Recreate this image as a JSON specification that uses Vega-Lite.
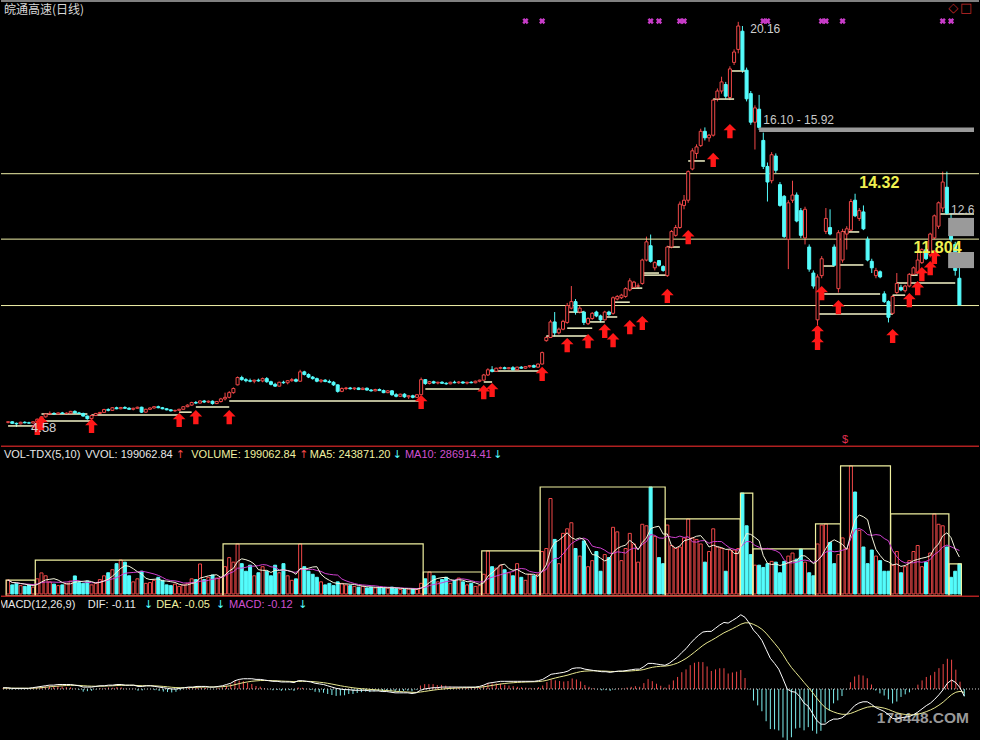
{
"$schema": "https://vega.github.io/schema/vega-lite/v6.json",
"background": "#000000",
"padding": 0,
"spacing": 0,
"bounds": "flush",
"config": {"view": {"stroke": null}, "text": {"font": "Liberation Sans"}},
"datasets": {
"k": [
{"d":0,"o":4.76,"h":4.8,"l":4.72,"c":4.78,"v":92000,"dif":0.02,"dea":0.012,"macd":0.016},
{"d":1,"o":4.78,"h":4.8,"l":4.7,"c":4.72,"v":60000,"dif":0.02,"dea":0.014,"macd":0.012},
{"d":2,"o":4.72,"h":4.75,"l":4.58,"c":4.7,"v":70000,"dif":0.01,"dea":0.013,"macd":-0.006},
{"d":3,"o":4.7,"h":4.78,"l":4.68,"c":4.76,"v":55000,"dif":0.01,"dea":0.012,"macd":-0.004},
{"d":4,"o":4.76,"h":4.8,"l":4.72,"c":4.74,"v":50000,"dif":0.01,"dea":0.012,"macd":-0.004},
{"d":5,"o":4.74,"h":4.78,"l":4.7,"c":4.73,"v":60000,"dif":0.01,"dea":0.012,"macd":-0.004},
{"d":6,"o":4.73,"h":4.8,"l":4.71,"c":4.78,"v":45000,"dif":0.01,"dea":0.011,"macd":-0.002},
{"d":7,"o":4.78,"h":4.9,"l":4.76,"c":4.88,"v":100000,"dif":0.02,"dea":0.013,"macd":0.014},
{"d":8,"o":4.88,"h":5.0,"l":4.85,"c":4.97,"v":139000,"dif":0.03,"dea":0.016,"macd":0.028},
{"d":9,"o":4.97,"h":5.1,"l":4.94,"c":5.08,"v":120000,"dif":0.04,"dea":0.021,"macd":0.038},
{"d":10,"o":5.08,"h":5.18,"l":5.04,"c":5.1,"v":80000,"dif":0.05,"dea":0.027,"macd":0.046},
{"d":11,"o":5.1,"h":5.15,"l":5.05,"c":5.08,"v":65000,"dif":0.06,"dea":0.034,"macd":0.052},
{"d":12,"o":5.08,"h":5.14,"l":5.06,"c":5.12,"v":55000,"dif":0.06,"dea":0.039,"macd":0.042},
{"d":13,"o":5.12,"h":5.16,"l":5.08,"c":5.1,"v":60000,"dif":0.07,"dea":0.045,"macd":0.05},
{"d":14,"o":5.1,"h":5.14,"l":5.07,"c":5.11,"v":70000,"dif":0.07,"dea":0.05,"macd":0.04},
{"d":15,"o":5.11,"h":5.2,"l":5.09,"c":5.18,"v":85000,"dif":0.07,"dea":0.054,"macd":0.032},
{"d":16,"o":5.18,"h":5.22,"l":5.1,"c":5.12,"v":119000,"dif":0.07,"dea":0.057,"macd":0.026},
{"d":17,"o":5.12,"h":5.16,"l":5.08,"c":5.1,"v":75000,"dif":0.06,"dea":0.058,"macd":0.004},
{"d":18,"o":5.1,"h":5.13,"l":4.98,"c":5.0,"v":70000,"dif":0.05,"dea":0.056,"macd":-0.012},
{"d":19,"o":5.0,"h":5.02,"l":4.86,"c":4.9,"v":85000,"dif":0.03,"dea":0.051,"macd":-0.042},
{"d":20,"o":4.9,"h":5.05,"l":4.88,"c":5.02,"v":60000,"dif":0.03,"dea":0.047,"macd":-0.034},
{"d":21,"o":5.02,"h":5.12,"l":5.0,"c":5.1,"v":70000,"dif":0.03,"dea":0.044,"macd":-0.028},
{"d":22,"o":5.1,"h":5.16,"l":5.06,"c":5.14,"v":95000,"dif":0.04,"dea":0.043,"macd":-0.006},
{"d":23,"o":5.14,"h":5.28,"l":5.12,"c":5.25,"v":120000,"dif":0.05,"dea":0.044,"macd":0.012},
{"d":24,"o":5.25,"h":5.3,"l":5.18,"c":5.22,"v":140000,"dif":0.05,"dea":0.045,"macd":0.01},
{"d":25,"o":5.22,"h":5.34,"l":5.2,"c":5.32,"v":160000,"dif":0.06,"dea":0.048,"macd":0.024},
{"d":26,"o":5.32,"h":5.36,"l":5.26,"c":5.28,"v":200000,"dif":0.06,"dea":0.05,"macd":0.02},
{"d":27,"o":5.28,"h":5.35,"l":5.26,"c":5.33,"v":224000,"dif":0.07,"dea":0.054,"macd":0.032},
{"d":28,"o":5.33,"h":5.38,"l":5.28,"c":5.3,"v":210000,"dif":0.07,"dea":0.057,"macd":0.026},
{"d":29,"o":5.3,"h":5.34,"l":5.24,"c":5.26,"v":120000,"dif":0.06,"dea":0.058,"macd":0.004},
{"d":30,"o":5.26,"h":5.32,"l":5.22,"c":5.3,"v":80000,"dif":0.06,"dea":0.058,"macd":0.004},
{"d":31,"o":5.3,"h":5.36,"l":5.28,"c":5.34,"v":100000,"dif":0.06,"dea":0.058,"macd":0.004},
{"d":32,"o":5.34,"h":5.36,"l":5.12,"c":5.15,"v":150000,"dif":0.04,"dea":0.054,"macd":-0.028},
{"d":33,"o":5.15,"h":5.28,"l":5.13,"c":5.26,"v":70000,"dif":0.04,"dea":0.051,"macd":-0.022},
{"d":34,"o":5.26,"h":5.33,"l":5.24,"c":5.31,"v":75000,"dif":0.05,"dea":0.051,"macd":-0.002},
{"d":35,"o":5.31,"h":5.38,"l":5.29,"c":5.36,"v":90000,"dif":0.05,"dea":0.051,"macd":-0.002},
{"d":36,"o":5.36,"h":5.4,"l":5.3,"c":5.32,"v":110000,"dif":0.04,"dea":0.049,"macd":-0.018},
{"d":37,"o":5.32,"h":5.35,"l":5.26,"c":5.28,"v":90000,"dif":0.03,"dea":0.045,"macd":-0.03},
{"d":38,"o":5.28,"h":5.3,"l":5.22,"c":5.24,"v":60000,"dif":0.02,"dea":0.04,"macd":-0.04},
{"d":39,"o":5.24,"h":5.26,"l":5.18,"c":5.2,"v":55000,"dif":0.01,"dea":0.034,"macd":-0.048},
{"d":40,"o":5.2,"h":5.24,"l":5.16,"c":5.22,"v":65000,"dif":0.0,"dea":0.027,"macd":-0.054},
{"d":41,"o":5.22,"h":5.28,"l":5.2,"c":5.26,"v":50000,"dif":0.0,"dea":0.022,"macd":-0.044},
{"d":42,"o":5.26,"h":5.38,"l":5.24,"c":5.36,"v":60000,"dif":0.01,"dea":0.02,"macd":-0.02},
{"d":43,"o":5.36,"h":5.45,"l":5.34,"c":5.42,"v":70000,"dif":0.02,"dea":0.02,"macd":0.0},
{"d":44,"o":5.42,"h":5.55,"l":5.4,"c":5.52,"v":100000,"dif":0.03,"dea":0.022,"macd":0.016},
{"d":45,"o":5.52,"h":5.58,"l":5.46,"c":5.5,"v":95000,"dif":0.03,"dea":0.023,"macd":0.014},
{"d":46,"o":5.5,"h":5.6,"l":5.48,"c":5.58,"v":198000,"dif":0.04,"dea":0.027,"macd":0.026},
{"d":47,"o":5.58,"h":5.62,"l":5.5,"c":5.54,"v":95000,"dif":0.04,"dea":0.029,"macd":0.022},
{"d":48,"o":5.54,"h":5.6,"l":5.5,"c":5.57,"v":110000,"dif":0.04,"dea":0.031,"macd":0.018},
{"d":49,"o":5.57,"h":5.6,"l":5.44,"c":5.48,"v":125000,"dif":0.03,"dea":0.031,"macd":-0.002},
{"d":50,"o":5.48,"h":5.58,"l":5.46,"c":5.56,"v":105000,"dif":0.03,"dea":0.031,"macd":-0.002},
{"d":51,"o":5.56,"h":5.7,"l":5.52,"c":5.66,"v":110000,"dif":0.04,"dea":0.033,"macd":0.014},
{"d":52,"o":5.66,"h":5.9,"l":5.6,"c":5.72,"v":180000,"dif":0.05,"dea":0.036,"macd":0.028},
{"d":53,"o":5.72,"h":5.96,"l":5.68,"c":5.9,"v":240000,"dif":0.07,"dea":0.043,"macd":0.054},
{"d":54,"o":5.9,"h":6.1,"l":5.86,"c":6.06,"v":210000,"dif":0.09,"dea":0.052,"macd":0.076},
{"d":55,"o":6.2,"h":6.52,"l":6.18,"c":6.48,"v":330000,"dif":0.13,"dea":0.068,"macd":0.124},
{"d":56,"o":6.48,"h":6.55,"l":6.36,"c":6.4,"v":200000,"dif":0.15,"dea":0.084,"macd":0.132},
{"d":57,"o":6.4,"h":6.46,"l":6.3,"c":6.36,"v":150000,"dif":0.16,"dea":0.099,"macd":0.122},
{"d":58,"o":6.36,"h":6.44,"l":6.3,"c":6.34,"v":190000,"dif":0.16,"dea":0.111,"macd":0.098},
{"d":59,"o":6.34,"h":6.4,"l":6.26,"c":6.38,"v":120000,"dif":0.16,"dea":0.121,"macd":0.078},
{"d":60,"o":6.38,"h":6.44,"l":6.32,"c":6.35,"v":140000,"dif":0.15,"dea":0.127,"macd":0.046},
{"d":61,"o":6.35,"h":6.48,"l":6.3,"c":6.44,"v":180000,"dif":0.15,"dea":0.132,"macd":0.036},
{"d":62,"o":6.44,"h":6.5,"l":6.28,"c":6.32,"v":150000,"dif":0.14,"dea":0.133,"macd":0.014},
{"d":63,"o":6.32,"h":6.36,"l":6.18,"c":6.22,"v":120000,"dif":0.13,"dea":0.132,"macd":-0.004},
{"d":64,"o":6.22,"h":6.28,"l":6.12,"c":6.15,"v":190000,"dif":0.12,"dea":0.13,"macd":-0.02},
{"d":65,"o":6.15,"h":6.32,"l":6.14,"c":6.3,"v":140000,"dif":0.12,"dea":0.128,"macd":-0.016},
{"d":66,"o":6.3,"h":6.36,"l":6.24,"c":6.28,"v":200000,"dif":0.11,"dea":0.124,"macd":-0.028},
{"d":67,"o":6.28,"h":6.38,"l":6.22,"c":6.36,"v":120000,"dif":0.11,"dea":0.121,"macd":-0.022},
{"d":68,"o":6.36,"h":6.46,"l":6.32,"c":6.4,"v":90000,"dif":0.11,"dea":0.119,"macd":-0.018},
{"d":69,"o":6.4,"h":6.45,"l":6.3,"c":6.34,"v":100000,"dif":0.1,"dea":0.115,"macd":-0.03},
{"d":70,"o":6.34,"h":6.78,"l":6.32,"c":6.7,"v":330000,"dif":0.13,"dea":0.118,"macd":0.024},
{"d":71,"o":6.7,"h":6.74,"l":6.56,"c":6.6,"v":180000,"dif":0.13,"dea":0.12,"macd":0.02},
{"d":72,"o":6.6,"h":6.64,"l":6.46,"c":6.5,"v":150000,"dif":0.12,"dea":0.12,"macd":0.0},
{"d":73,"o":6.5,"h":6.54,"l":6.4,"c":6.44,"v":130000,"dif":0.11,"dea":0.118,"macd":-0.016},
{"d":74,"o":6.44,"h":6.48,"l":6.3,"c":6.34,"v":110000,"dif":0.09,"dea":0.112,"macd":-0.044},
{"d":75,"o":6.34,"h":6.42,"l":6.28,"c":6.38,"v":80000,"dif":0.08,"dea":0.106,"macd":-0.052},
{"d":76,"o":6.38,"h":6.42,"l":6.3,"c":6.33,"v":60000,"dif":0.07,"dea":0.099,"macd":-0.058},
{"d":77,"o":6.33,"h":6.4,"l":6.26,"c":6.3,"v":70000,"dif":0.05,"dea":0.089,"macd":-0.078},
{"d":78,"o":6.3,"h":6.34,"l":6.16,"c":6.2,"v":55000,"dif":0.03,"dea":0.077,"macd":-0.094},
{"d":79,"o":6.2,"h":6.22,"l":5.9,"c":5.95,"v":80000,"dif":0.01,"dea":0.064,"macd":-0.108},
{"d":80,"o":5.95,"h":6.1,"l":5.92,"c":6.06,"v":70000,"dif":0.0,"dea":0.051,"macd":-0.102},
{"d":81,"o":6.06,"h":6.12,"l":6.0,"c":6.08,"v":60000,"dif":-0.01,"dea":0.039,"macd":-0.098},
{"d":82,"o":6.08,"h":6.12,"l":6.02,"c":6.05,"v":55000,"dif":-0.01,"dea":0.029,"macd":-0.078},
{"d":83,"o":6.05,"h":6.1,"l":6.0,"c":6.08,"v":50000,"dif":-0.02,"dea":0.019,"macd":-0.078},
{"d":84,"o":6.08,"h":6.1,"l":6.0,"c":6.02,"v":45000,"dif":-0.02,"dea":0.011,"macd":-0.062},
{"d":85,"o":6.02,"h":6.1,"l":6.0,"c":6.07,"v":50000,"dif":-0.02,"dea":0.005,"macd":-0.05},
{"d":86,"o":6.07,"h":6.1,"l":5.98,"c":6.0,"v":40000,"dif":-0.02,"dea":0.0,"macd":-0.04},
{"d":87,"o":6.0,"h":6.04,"l":5.94,"c":5.97,"v":45000,"dif":-0.03,"dea":-0.006,"macd":-0.048},
{"d":88,"o":5.97,"h":6.05,"l":5.95,"c":6.02,"v":40000,"dif":-0.03,"dea":-0.011,"macd":-0.038},
{"d":89,"o":6.02,"h":6.06,"l":5.96,"c":5.98,"v":42000,"dif":-0.03,"dea":-0.015,"macd":-0.03},
{"d":90,"o":5.98,"h":6.02,"l":5.88,"c":5.9,"v":40000,"dif":-0.04,"dea":-0.02,"macd":-0.04},
{"d":91,"o":5.9,"h":6.0,"l":5.88,"c":5.97,"v":38000,"dif":-0.04,"dea":-0.024,"macd":-0.032},
{"d":92,"o":5.97,"h":6.0,"l":5.78,"c":5.82,"v":45000,"dif":-0.05,"dea":-0.029,"macd":-0.042},
{"d":93,"o":5.82,"h":5.88,"l":5.72,"c":5.76,"v":35000,"dif":-0.06,"dea":-0.035,"macd":-0.05},
{"d":94,"o":5.76,"h":5.86,"l":5.74,"c":5.84,"v":30000,"dif":-0.06,"dea":-0.04,"macd":-0.04},
{"d":95,"o":5.84,"h":5.88,"l":5.7,"c":5.74,"v":30000,"dif":-0.06,"dea":-0.044,"macd":-0.032},
{"d":96,"o":5.74,"h":5.8,"l":5.66,"c":5.78,"v":32000,"dif":-0.06,"dea":-0.047,"macd":-0.026},
{"d":97,"o":5.78,"h":5.82,"l":5.68,"c":5.72,"v":35000,"dif":-0.07,"dea":-0.052,"macd":-0.036},
{"d":98,"o":5.72,"h":5.84,"l":5.7,"c":5.82,"v":30000,"dif":-0.06,"dea":-0.054,"macd":-0.012},
{"d":99,"o":5.82,"h":6.48,"l":5.8,"c":6.4,"v":70000,"dif":-0.02,"dea":-0.047,"macd":0.054},
{"d":100,"o":6.4,"h":6.42,"l":6.2,"c":6.25,"v":100000,"dif":0.0,"dea":-0.038,"macd":0.076},
{"d":101,"o":6.25,"h":6.35,"l":6.22,"c":6.32,"v":145000,"dif":0.01,"dea":-0.028,"macd":0.076},
{"d":102,"o":6.32,"h":6.36,"l":6.24,"c":6.27,"v":120000,"dif":0.02,"dea":-0.018,"macd":0.076},
{"d":103,"o":6.27,"h":6.32,"l":6.22,"c":6.3,"v":80000,"dif":0.02,"dea":-0.01,"macd":0.06},
{"d":104,"o":6.3,"h":6.34,"l":6.24,"c":6.26,"v":95000,"dif":0.03,"dea":-0.002,"macd":0.064},
{"d":105,"o":6.26,"h":6.3,"l":6.2,"c":6.24,"v":110000,"dif":0.03,"dea":0.004,"macd":0.052},
{"d":106,"o":6.24,"h":6.32,"l":6.22,"c":6.3,"v":70000,"dif":0.03,"dea":0.009,"macd":0.042},
{"d":107,"o":6.3,"h":6.36,"l":6.26,"c":6.28,"v":90000,"dif":0.03,"dea":0.013,"macd":0.034},
{"d":108,"o":6.28,"h":6.34,"l":6.24,"c":6.31,"v":105000,"dif":0.03,"dea":0.016,"macd":0.028},
{"d":109,"o":6.31,"h":6.34,"l":6.24,"c":6.27,"v":80000,"dif":0.03,"dea":0.019,"macd":0.022},
{"d":110,"o":6.27,"h":6.32,"l":6.22,"c":6.3,"v":60000,"dif":0.03,"dea":0.021,"macd":0.018},
{"d":111,"o":6.3,"h":6.34,"l":6.26,"c":6.28,"v":70000,"dif":0.03,"dea":0.023,"macd":0.014},
{"d":112,"o":6.28,"h":6.36,"l":6.26,"c":6.34,"v":50000,"dif":0.03,"dea":0.024,"macd":0.012},
{"d":113,"o":6.34,"h":6.4,"l":6.3,"c":6.38,"v":55000,"dif":0.04,"dea":0.027,"macd":0.026},
{"d":114,"o":6.38,"h":6.62,"l":6.36,"c":6.58,"v":130000,"dif":0.06,"dea":0.034,"macd":0.052},
{"d":115,"o":6.58,"h":6.84,"l":6.54,"c":6.78,"v":284000,"dif":0.09,"dea":0.045,"macd":0.09},
{"d":116,"o":6.78,"h":6.92,"l":6.68,"c":6.72,"v":180000,"dif":0.1,"dea":0.056,"macd":0.088},
{"d":117,"o":6.72,"h":6.86,"l":6.7,"c":6.84,"v":170000,"dif":0.11,"dea":0.067,"macd":0.086},
{"d":118,"o":6.84,"h":6.9,"l":6.8,"c":6.86,"v":190000,"dif":0.12,"dea":0.078,"macd":0.084},
{"d":119,"o":6.86,"h":6.9,"l":6.8,"c":6.82,"v":160000,"dif":0.12,"dea":0.086,"macd":0.068},
{"d":120,"o":6.82,"h":6.88,"l":6.8,"c":6.86,"v":140000,"dif":0.12,"dea":0.093,"macd":0.054},
{"d":121,"o":6.86,"h":6.92,"l":6.76,"c":6.78,"v":120000,"dif":0.12,"dea":0.098,"macd":0.044},
{"d":122,"o":6.78,"h":6.9,"l":6.76,"c":6.88,"v":200000,"dif":0.12,"dea":0.103,"macd":0.034},
{"d":123,"o":6.88,"h":6.92,"l":6.82,"c":6.84,"v":110000,"dif":0.12,"dea":0.106,"macd":0.028},
{"d":124,"o":6.84,"h":6.92,"l":6.82,"c":6.9,"v":90000,"dif":0.12,"dea":0.109,"macd":0.022},
{"d":125,"o":6.9,"h":6.96,"l":6.86,"c":6.94,"v":130000,"dif":0.12,"dea":0.111,"macd":0.018},
{"d":126,"o":6.94,"h":6.98,"l":6.86,"c":6.88,"v":120000,"dif":0.12,"dea":0.113,"macd":0.014},
{"d":127,"o":6.88,"h":7.02,"l":6.86,"c":7.0,"v":130000,"dif":0.13,"dea":0.116,"macd":0.028},
{"d":128,"o":7.0,"h":7.48,"l":6.98,"c":7.44,"v":280000,"dif":0.15,"dea":0.123,"macd":0.054},
{"d":129,"o":7.9,"h":8.08,"l":7.86,"c":8.02,"v":300000,"dif":0.19,"dea":0.136,"macd":0.108},
{"d":130,"o":8.02,"h":8.7,"l":8.0,"c":8.62,"v":630000,"dif":0.23,"dea":0.155,"macd":0.15},
{"d":131,"o":8.62,"h":9.0,"l":8.06,"c":8.2,"v":360000,"dif":0.24,"dea":0.172,"macd":0.136},
{"d":132,"o":8.2,"h":8.4,"l":8.14,"c":8.34,"v":200000,"dif":0.25,"dea":0.188,"macd":0.124},
{"d":133,"o":8.34,"h":8.7,"l":8.3,"c":8.64,"v":400000,"dif":0.26,"dea":0.202,"macd":0.116},
{"d":134,"o":8.6,"h":9.35,"l":8.55,"c":9.25,"v":430000,"dif":0.28,"dea":0.218,"macd":0.124},
{"d":135,"o":9.15,"h":10.0,"l":9.1,"c":9.4,"v":470000,"dif":0.32,"dea":0.238,"macd":0.164},
{"d":136,"o":9.4,"h":9.5,"l":8.9,"c":9.0,"v":300000,"dif":0.33,"dea":0.256,"macd":0.148},
{"d":137,"o":9.0,"h":9.25,"l":8.95,"c":9.15,"v":250000,"dif":0.33,"dea":0.271,"macd":0.118},
{"d":138,"o":9.0,"h":9.05,"l":8.5,"c":8.6,"v":350000,"dif":0.31,"dea":0.279,"macd":0.062},
{"d":139,"o":8.55,"h":8.8,"l":8.5,"c":8.75,"v":180000,"dif":0.3,"dea":0.283,"macd":0.034},
{"d":140,"o":8.75,"h":9.0,"l":8.7,"c":8.95,"v":220000,"dif":0.29,"dea":0.284,"macd":0.012},
{"d":141,"o":9.0,"h":9.05,"l":8.8,"c":8.85,"v":280000,"dif":0.28,"dea":0.283,"macd":-0.006},
{"d":142,"o":8.85,"h":8.9,"l":8.6,"c":8.7,"v":150000,"dif":0.27,"dea":0.281,"macd":-0.022},
{"d":143,"o":8.7,"h":9.05,"l":8.68,"c":9.0,"v":260000,"dif":0.27,"dea":0.279,"macd":-0.018},
{"d":144,"o":9.0,"h":9.05,"l":8.85,"c":8.9,"v":240000,"dif":0.26,"dea":0.275,"macd":-0.03},
{"d":145,"o":8.95,"h":9.6,"l":8.9,"c":9.55,"v":440000,"dif":0.27,"dea":0.274,"macd":-0.008},
{"d":146,"o":9.5,"h":9.65,"l":9.45,"c":9.6,"v":410000,"dif":0.28,"dea":0.275,"macd":0.01},
{"d":147,"o":9.55,"h":9.7,"l":9.5,"c":9.65,"v":220000,"dif":0.28,"dea":0.276,"macd":0.008},
{"d":148,"o":9.6,"h":9.95,"l":9.55,"c":9.9,"v":300000,"dif":0.29,"dea":0.279,"macd":0.022},
{"d":149,"o":9.85,"h":10.3,"l":9.8,"c":10.2,"v":400000,"dif":0.3,"dea":0.283,"macd":0.034},
{"d":150,"o":9.95,"h":10.2,"l":9.9,"c":10.15,"v":330000,"dif":0.31,"dea":0.288,"macd":0.044},
{"d":151,"o":10.0,"h":10.1,"l":9.9,"c":10.0,"v":210000,"dif":0.31,"dea":0.293,"macd":0.034},
{"d":152,"o":10.1,"h":11.05,"l":10.05,"c":11.0,"v":460000,"dif":0.35,"dea":0.304,"macd":0.092},
{"d":153,"o":11.0,"h":11.9,"l":10.95,"c":11.7,"v":450000,"dif":0.4,"dea":0.323,"macd":0.154},
{"d":154,"o":11.55,"h":11.98,"l":10.9,"c":10.95,"v":706000,"dif":0.4,"dea":0.339,"macd":0.122},
{"d":155,"o":10.7,"h":10.95,"l":10.6,"c":10.9,"v":380000,"dif":0.39,"dea":0.349,"macd":0.082},
{"d":156,"o":10.98,"h":11.0,"l":10.75,"c":10.8,"v":240000,"dif":0.38,"dea":0.355,"macd":0.05},
{"d":157,"o":10.75,"h":10.8,"l":10.55,"c":10.6,"v":200000,"dif":0.37,"dea":0.358,"macd":0.024},
{"d":158,"o":10.4,"h":11.55,"l":10.35,"c":11.5,"v":455000,"dif":0.4,"dea":0.366,"macd":0.068},
{"d":159,"o":11.5,"h":12.15,"l":11.45,"c":12.1,"v":320000,"dif":0.45,"dea":0.383,"macd":0.134},
{"d":160,"o":11.95,"h":12.35,"l":11.9,"c":12.25,"v":300000,"dif":0.5,"dea":0.406,"macd":0.188},
{"d":161,"o":12.25,"h":13.25,"l":12.2,"c":13.15,"v":310000,"dif":0.57,"dea":0.439,"macd":0.262},
{"d":162,"o":13.1,"h":13.5,"l":12.95,"c":13.3,"v":370000,"dif":0.63,"dea":0.477,"macd":0.306},
{"d":163,"o":13.3,"h":14.45,"l":13.2,"c":14.4,"v":495000,"dif":0.71,"dea":0.524,"macd":0.372},
{"d":164,"o":14.5,"h":15.3,"l":14.45,"c":15.2,"v":370000,"dif":0.78,"dea":0.575,"macd":0.41},
{"d":165,"o":15.1,"h":15.45,"l":14.9,"c":15.35,"v":360000,"dif":0.84,"dea":0.628,"macd":0.424},
{"d":166,"o":15.4,"h":16.05,"l":15.35,"c":15.95,"v":330000,"dif":0.89,"dea":0.68,"macd":0.42},
{"d":167,"o":15.95,"h":16.1,"l":15.6,"c":15.7,"v":210000,"dif":0.9,"dea":0.724,"macd":0.352},
{"d":168,"o":15.7,"h":15.85,"l":15.55,"c":15.8,"v":280000,"dif":0.9,"dea":0.759,"macd":0.282},
{"d":169,"o":15.8,"h":17.2,"l":15.75,"c":17.15,"v":430000,"dif":0.95,"dea":0.797,"macd":0.306},
{"d":170,"o":17.2,"h":17.6,"l":17.1,"c":17.5,"v":310000,"dif":1.0,"dea":0.838,"macd":0.324},
{"d":171,"o":17.5,"h":18.05,"l":17.4,"c":17.85,"v":300000,"dif":1.04,"dea":0.878,"macd":0.324},
{"d":172,"o":17.75,"h":17.85,"l":17.2,"c":17.3,"v":150000,"dif":1.03,"dea":0.909,"macd":0.242},
{"d":173,"o":17.25,"h":18.45,"l":17.15,"c":18.35,"v":290000,"dif":1.07,"dea":0.941,"macd":0.258},
{"d":174,"o":18.6,"h":19.1,"l":18.5,"c":19.0,"v":290000,"dif":1.11,"dea":0.975,"macd":0.27},
{"d":175,"o":19.1,"h":20.16,"l":18.95,"c":20.0,"v":300000,"dif":1.16,"dea":1.012,"macd":0.296},
{"d":176,"o":19.8,"h":20.0,"l":18.2,"c":18.3,"v":666000,"dif":1.12,"dea":1.034,"macd":0.172},
{"d":177,"o":18.3,"h":18.4,"l":17.1,"c":17.2,"v":450000,"dif":1.03,"dea":1.033,"macd":-0.006},
{"d":178,"o":17.4,"h":17.5,"l":16.2,"c":16.3,"v":260000,"dif":0.92,"dea":1.01,"macd":-0.18},
{"d":179,"o":16.3,"h":16.95,"l":15.25,"c":16.85,"v":190000,"dif":0.85,"dea":0.978,"macd":-0.256},
{"d":180,"o":16.8,"h":17.35,"l":16.0,"c":16.1,"v":190000,"dif":0.76,"dea":0.934,"macd":-0.348},
{"d":181,"o":15.6,"h":15.9,"l":14.5,"c":14.6,"v":175000,"dif":0.62,"dea":0.872,"macd":-0.504},
{"d":182,"o":14.6,"h":14.75,"l":13.25,"c":14.0,"v":200000,"dif":0.48,"dea":0.793,"macd":-0.626},
{"d":183,"o":14.05,"h":15.15,"l":13.95,"c":15.05,"v":215000,"dif":0.4,"dea":0.715,"macd":-0.63},
{"d":184,"o":15.0,"h":15.1,"l":14.35,"c":14.45,"v":210000,"dif":0.31,"dea":0.634,"macd":-0.648},
{"d":185,"o":13.9,"h":14.0,"l":13.05,"c":13.1,"v":140000,"dif":0.16,"dea":0.539,"macd":-0.758},
{"d":186,"o":13.45,"h":13.5,"l":11.85,"c":11.9,"v":215000,"dif":0.0,"dea":0.431,"macd":-0.862},
{"d":187,"o":11.8,"h":13.3,"l":10.65,"c":13.2,"v":250000,"dif":-0.04,"dea":0.337,"macd":-0.754},
{"d":188,"o":13.3,"h":14.05,"l":13.2,"c":13.5,"v":270000,"dif":-0.05,"dea":0.259,"macd":-0.618},
{"d":189,"o":13.5,"h":13.6,"l":12.45,"c":12.5,"v":230000,"dif":-0.12,"dea":0.183,"macd":-0.606},
{"d":190,"o":12.9,"h":13.0,"l":11.85,"c":11.95,"v":297000,"dif":-0.22,"dea":0.103,"macd":-0.646},
{"d":191,"o":11.85,"h":13.05,"l":11.6,"c":12.95,"v":210000,"dif":-0.27,"dea":0.028,"macd":-0.596},
{"d":192,"o":11.5,"h":11.6,"l":10.55,"c":10.65,"v":140000,"dif":-0.38,"dea":-0.054,"macd":-0.652},
{"d":193,"o":10.5,"h":10.6,"l":9.9,"c":10.0,"v":120000,"dif":-0.49,"dea":-0.141,"macd":-0.698},
{"d":194,"o":8.7,"h":10.45,"l":8.5,"c":10.35,"v":330000,"dif":-0.55,"dea":-0.223,"macd":-0.654},
{"d":195,"o":10.4,"h":11.15,"l":10.3,"c":11.05,"v":455000,"dif":-0.55,"dea":-0.288,"macd":-0.524},
{"d":196,"o":12.1,"h":13.0,"l":12.0,"c":12.6,"v":462000,"dif":-0.5,"dea":-0.331,"macd":-0.338},
{"d":197,"o":12.25,"h":12.95,"l":11.95,"c":12.0,"v":340000,"dif":-0.47,"dea":-0.358,"macd":-0.224},
{"d":198,"o":11.5,"h":11.6,"l":10.75,"c":10.8,"v":200000,"dif":-0.47,"dea":-0.381,"macd":-0.178},
{"d":199,"o":9.9,"h":12.15,"l":9.75,"c":12.05,"v":260000,"dif":-0.45,"dea":-0.395,"macd":-0.11},
{"d":200,"o":11.0,"h":12.2,"l":10.9,"c":12.1,"v":370000,"dif":-0.4,"dea":-0.396,"macd":-0.008},
{"d":201,"o":12.0,"h":12.3,"l":11.4,"c":12.2,"v":300000,"dif":-0.33,"dea":-0.383,"macd":0.106},
{"d":202,"o":12.15,"h":13.35,"l":12.1,"c":13.25,"v":845000,"dif":-0.26,"dea":-0.358,"macd":0.196},
{"d":203,"o":13.3,"h":13.55,"l":12.65,"c":12.7,"v":673000,"dif":-0.22,"dea":-0.331,"macd":0.222},
{"d":204,"o":12.6,"h":13.0,"l":12.5,"c":12.9,"v":420000,"dif":-0.2,"dea":-0.305,"macd":0.21},
{"d":205,"o":12.85,"h":13.1,"l":12.15,"c":12.2,"v":310000,"dif":-0.2,"dea":-0.284,"macd":0.168},
{"d":206,"o":11.8,"h":11.9,"l":10.95,"c":11.0,"v":200000,"dif":-0.24,"dea":-0.275,"macd":0.07},
{"d":207,"o":10.95,"h":11.05,"l":10.5,"c":10.7,"v":290000,"dif":-0.29,"dea":-0.278,"macd":-0.024},
{"d":208,"o":10.4,"h":10.7,"l":10.3,"c":10.6,"v":250000,"dif":-0.32,"dea":-0.286,"macd":-0.068},
{"d":209,"o":10.55,"h":10.6,"l":10.3,"c":10.35,"v":220000,"dif":-0.35,"dea":-0.299,"macd":-0.102},
{"d":210,"o":9.7,"h":9.8,"l":9.35,"c":9.4,"v":150000,"dif":-0.4,"dea":-0.319,"macd":-0.162},
{"d":211,"o":9.4,"h":9.45,"l":8.6,"c":8.8,"v":150000,"dif":-0.46,"dea":-0.347,"macd":-0.226},
{"d":212,"o":8.95,"h":9.65,"l":8.9,"c":9.6,"v":190000,"dif":-0.47,"dea":-0.372,"macd":-0.196},
{"d":213,"o":9.75,"h":10.5,"l":9.7,"c":10.1,"v":280000,"dif":-0.45,"dea":-0.388,"macd":-0.124},
{"d":214,"o":9.95,"h":10.05,"l":9.8,"c":9.85,"v":140000,"dif":-0.44,"dea":-0.398,"macd":-0.084},
{"d":215,"o":9.82,"h":10.05,"l":9.75,"c":10.0,"v":180000,"dif":-0.43,"dea":-0.404,"macd":-0.052},
{"d":216,"o":10.0,"h":10.5,"l":9.95,"c":10.45,"v":220000,"dif":-0.4,"dea":-0.403,"macd":0.006},
{"d":217,"o":10.45,"h":10.75,"l":10.4,"c":10.7,"v":280000,"dif":-0.36,"dea":-0.394,"macd":0.068},
{"d":218,"o":10.5,"h":11.4,"l":10.45,"c":11.0,"v":320000,"dif":-0.31,"dea":-0.377,"macd":0.134},
{"d":219,"o":10.9,"h":11.45,"l":10.85,"c":11.4,"v":180000,"dif":-0.26,"dea":-0.354,"macd":0.188},
{"d":220,"o":11.4,"h":11.55,"l":11.0,"c":11.05,"v":210000,"dif":-0.22,"dea":-0.327,"macd":0.214},
{"d":221,"o":11.2,"h":12.05,"l":11.1,"c":12.0,"v":270000,"dif":-0.16,"dea":-0.294,"macd":0.268},
{"d":222,"o":11.85,"h":12.75,"l":11.8,"c":12.7,"v":528000,"dif":-0.09,"dea":-0.253,"macd":0.326},
{"d":223,"o":12.3,"h":13.25,"l":12.2,"c":13.2,"v":460000,"dif":-0.01,"dea":-0.205,"macd":0.39},
{"d":224,"o":13.0,"h":14.4,"l":12.85,"c":14.0,"v":450000,"dif":0.09,"dea":-0.146,"macd":0.472},
{"d":225,"o":13.8,"h":14.4,"l":12.75,"c":12.8,"v":310000,"dif":0.14,"dea":-0.089,"macd":0.458},
{"d":226,"o":12.6,"h":12.8,"l":11.7,"c":11.8,"v":110000,"dif":0.1,"dea":-0.051,"macd":0.302},
{"d":227,"o":11.6,"h":11.7,"l":10.4,"c":10.6,"v":150000,"dif":0.02,"dea":-0.037,"macd":0.114},
{"d":228,"o":10.3,"h":10.75,"l":9.25,"c":9.27,"v":199062.84,"dif":-0.11,"dea":-0.052,"macd":-0.116}
],
"lines": [{"p":14.32},{"p":11.804},{"p":9.25}],
"zones": [{"d1":180,"d2":231.5,"p1":15.92,"p2":16.1},{"d1":225.3,"d2":231.5,"p1":11.92,"p2":12.62},{"d1":225.3,"d2":231.5,"p1":10.69,"p2":11.31}],
"seg": [
{"d1":0,"d2":6,"p":4.62},{"d1":7,"d2":20,"p":4.81},{"d1":8,"d2":19,"p":5.08},{"d1":20,"d2":41,"p":5.04},{"d1":41,"d2":44,"p":5.15},{"d1":45,"d2":53,"p":5.35},{"d1":53,"d2":99,"p":5.58},{"d1":100,"d2":113,"p":6.04},{"d1":114,"d2":116,"p":6.31},{"d1":116,"d2":128,"p":6.73},{"d1":129,"d2":139,"p":8.08},{"d1":134,"d2":140,"p":8.38},{"d1":134,"d2":138,"p":9.0},{"d1":139,"d2":143,"p":8.62},{"d1":143,"d2":146,"p":8.81},{"d1":145,"d2":149,"p":9.38},{"d1":149,"d2":152,"p":9.92},{"d1":152,"d2":156,"p":10.5},{"d1":152,"d2":158,"p":10.42},{"d1":158,"d2":161,"p":11.5},{"d1":163,"d2":167,"p":14.81},{"d1":169,"d2":174,"p":17.19},{"d1":173,"d2":177,"p":18.27},{"d1":195,"d2":198,"p":10.77},{"d1":199,"d2":205,"p":10.81},{"d1":200,"d2":204,"p":12.08},{"d1":194,"d2":209,"p":9.69},{"d1":194,"d2":212,"p":8.92},{"d1":212,"d2":215,"p":9.65},{"d1":213,"d2":227,"p":10.12},{"d1":216,"d2":218,"p":10.42},{"d1":223,"d2":231.5,"p":12.77}
],
"arrows": [
{"d":7,"p":4.54},{"d":8,"p":4.73},{"d":20,"p":4.62},{"d":41,"p":4.85},{"d":45,"p":4.96},{"d":53,"p":4.96},{"d":99,"p":5.54},{"d":114,"p":5.92},{"d":116,"p":6.0},{"d":128,"p":6.62},{"d":134,"p":7.73},{"d":139,"p":7.88},{"d":143,"p":8.27},{"d":145,"p":7.92},{"d":149,"p":8.42},{"d":152,"p":8.58},{"d":158,"p":9.62},{"d":163,"p":11.88},{"d":169,"p":14.85},{"d":173,"p":15.96},{"d":194,"p":8.23},{"d":194,"p":7.81},{"d":195,"p":9.73},{"d":199,"p":9.19},{"d":212,"p":8.08},{"d":216,"p":9.46},{"d":218,"p":9.92},{"d":219,"p":10.46},{"d":221,"p":10.69},{"d":222,"p":11.12}
],
"xs": [{"d":124},{"d":128},{"d":154},{"d":156},{"d":161},{"d":162},{"d":181},{"d":182},{"d":195},{"d":196},{"d":200},{"d":224},{"d":226}],
"boxes": [
{"d1":0,"d2":6,"top":92000},{"d1":7,"d2":51,"top":224000},{"d1":52,"d2":99,"top":330000},{"d1":100,"d2":113,"top":145000},{"d1":114,"d2":127,"top":284000},{"d1":128,"d2":157,"top":706000},{"d1":158,"d2":175,"top":495000},{"d1":176,"d2":178,"top":666000},{"d1":179,"d2":193,"top":297000},{"d1":194,"d2":199,"top":462000},{"d1":200,"d2":211,"top":845000},{"d1":212,"d2":225,"top":528000},{"d1":226,"d2":228,"top":199062.84}
]
},
"vconcat": [
{
"width": 978, "height": 447,
"layer": [
{"data": {"name": "k"}, "mark": {"type": "rule", "strokeWidth": 1},
 "encoding": {
  "x": {"field": "d", "type": "quantitative", "scale": {"domain": [-0.5, 231.5], "nice": false, "zero": false}, "axis": null},
  "y": {"field": "l", "type": "quantitative", "scale": {"domain": [3.81, 21.0], "nice": false, "zero": false},
        "axis": {"orient": "right", "title": null, "labels": false, "values": [4,5,6,7,8,9,10,11,12,13,14,15,16,17,18,19,20,21], "domainColor": "#b02020", "domainWidth": 1.5, "tickColor": "#b02020", "tickSize": 5, "grid": true, "gridColor": "#8c1c1c", "gridDash": [1,3], "gridOpacity": {"condition": {"test": "datum.value % 2 === 0 && datum.value < 21", "value": 1}, "value": 0}}},
  "y2": {"field": "h"},
  "color": {"condition": {"test": "datum.c >= datum.o", "value": "#f04848"}, "value": "#54fcfc"}
 }},
{"data": {"name": "lines"}, "mark": {"type": "rule", "color": "#f0f0a8", "strokeWidth": 1},
 "encoding": {"y": {"field": "p", "type": "quantitative", "axis": null}}},
{"data": {"name": "seg"}, "mark": {"type": "rule", "color": "#f5f5c8", "strokeWidth": 1.5},
 "encoding": {"x": {"field": "d1", "type": "quantitative", "axis": null}, "x2": {"field": "d2"}, "y": {"field": "p", "type": "quantitative", "axis": null}}},
{"data": {"name": "k"}, "mark": {"type": "bar", "width": 3, "strokeWidth": 1},
 "encoding": {
  "x": {"field": "d", "type": "quantitative", "axis": null},
  "y": {"field": "o", "type": "quantitative", "axis": null},
  "y2": {"field": "c"},
  "fill": {"condition": {"test": "datum.c >= datum.o", "value": "#000000"}, "value": "#54fcfc"},
  "stroke": {"condition": {"test": "datum.c >= datum.o", "value": "#f04848"}, "value": "#54fcfc"}
 }},
{"data": {"name": "zones"}, "mark": {"type": "rect", "color": "#9a9a9a", "clip": true},
 "encoding": {"x": {"field": "d1", "type": "quantitative", "axis": null}, "x2": {"field": "d2"}, "y": {"field": "p1", "type": "quantitative", "axis": null}, "y2": {"field": "p2"}}},
{"data": {"name": "arrows"}, "mark": {"type": "point", "filled": true, "opacity": 1, "color": "#ff1818", "size": 200, "shape": "M0,-1L0.9,-0.1L0.38,-0.1L0.38,1L-0.38,1L-0.38,-0.1L-0.9,-0.1Z"},
 "encoding": {"x": {"field": "d", "type": "quantitative", "axis": null}, "y": {"field": "p", "type": "quantitative", "axis": null}}},
{"data": {"name": "xs"}, "mark": {"type": "point", "filled": true, "opacity": 1, "color": "#c83cc8", "size": 40, "shape": "cross", "angle": 45},
 "encoding": {"x": {"field": "d", "type": "quantitative", "axis": null}, "y": {"datum": 20.19, "type": "quantitative", "axis": null}}},
{"data": {"values": [{}]}, "mark": {"type": "rule", "color": "#808080", "strokeWidth": 2},
 "encoding": {"y": {"datum": 20.96, "type": "quantitative", "axis": null}}},
{"data": {"values": [{}]}, "mark": {"type": "rule", "color": "#b02020", "strokeWidth": 1.5},
 "encoding": {"y": {"datum": 3.84, "type": "quantitative", "axis": null}}},
{"data": {"values": [{}]}, "mark": {"type": "text", "text": "皖通高速(日线)", "font": "Noto Sans CJK SC", "fontSize": 12, "align": "left", "baseline": "middle", "color": "#d8d8d8", "clip": true},
 "encoding": {"x": {"datum": -1, "type": "quantitative", "axis": null}, "y": {"datum": 20.62, "type": "quantitative", "axis": null}}},
{"data": {"values": [{}]}, "mark": {"type": "text", "text": "20.16", "fontSize": 12, "align": "left", "baseline": "middle", "dx": 12, "color": "#d0d0d0"},
 "encoding": {"x": {"datum": 175, "type": "quantitative", "axis": null}, "y": {"datum": 19.88, "type": "quantitative", "axis": null}}},
{"data": {"values": [{}]}, "mark": {"type": "text", "text": "4.58", "fontSize": 13, "align": "left", "baseline": "middle", "color": "#d0d0d0"},
 "encoding": {"x": {"datum": 5.5, "type": "quantitative", "axis": null}, "y": {"datum": 4.54, "type": "quantitative", "axis": null}}},
{"data": {"values": [{}]}, "mark": {"type": "text", "text": "16.10 - 15.92", "fontSize": 12, "align": "left", "baseline": "middle", "color": "#c8c8c8"},
 "encoding": {"x": {"datum": 181, "type": "quantitative", "axis": null}, "y": {"datum": 16.38, "type": "quantitative", "axis": null}}},
{"data": {"values": [{}]}, "mark": {"type": "text", "text": "14.32", "fontSize": 16, "fontWeight": "bold", "align": "left", "baseline": "middle", "color": "#f0f050"},
 "encoding": {"x": {"datum": 204, "type": "quantitative", "axis": null}, "y": {"datum": 13.97, "type": "quantitative", "axis": null}}},
{"data": {"values": [{}]}, "mark": {"type": "text", "text": "11.804", "fontSize": 16, "fontWeight": "bold", "align": "left", "baseline": "middle", "color": "#f0f050", "clip": true},
 "encoding": {"x": {"datum": 217, "type": "quantitative", "axis": null}, "y": {"datum": 11.46, "type": "quantitative", "axis": null}}},
{"data": {"values": [{}]}, "mark": {"type": "text", "text": "12.6", "fontSize": 12, "align": "left", "baseline": "middle", "color": "#c8c8c8", "clip": true},
 "encoding": {"x": {"datum": 226, "type": "quantitative", "axis": null}, "y": {"datum": 12.92, "type": "quantitative", "axis": null}}},
{"data": {"values": [{}]}, "mark": {"type": "text", "text": "◇", "font": "DejaVu Sans", "fontSize": 13, "align": "center", "baseline": "middle", "color": "#c02828"},
 "encoding": {"x": {"datum": 226.5, "type": "quantitative", "axis": null}, "y": {"datum": 20.69, "type": "quantitative", "axis": null}}},
{"data": {"values": [{}]}, "mark": {"type": "text", "text": "□", "font": "DejaVu Sans", "fontSize": 13, "align": "center", "baseline": "middle", "color": "#c02828", "clip": true},
 "encoding": {"x": {"datum": 229.6, "type": "quantitative", "axis": null}, "y": {"datum": 20.69, "type": "quantitative", "axis": null}}},
{"data": {"values": [{}]}, "mark": {"type": "text", "text": "$", "fontSize": 11, "align": "center", "baseline": "middle", "color": "#e03050"},
 "encoding": {"x": {"datum": 200.6, "type": "quantitative", "axis": null}, "y": {"datum": 4.08, "type": "quantitative", "axis": null}}}
]
},
{
"width": 978, "height": 150,
"layer": [
{"data": {"name": "k"}, "mark": {"type": "bar", "width": 3, "strokeWidth": 1},
 "encoding": {
  "x": {"field": "d", "type": "quantitative", "scale": {"domain": [-0.5, 231.5], "nice": false, "zero": false}, "axis": null},
  "y": {"field": "v", "type": "quantitative", "scale": {"domain": [-20000, 970000], "nice": false, "zero": false},
        "axis": {"orient": "right", "title": null, "labels": false, "values": [0,100000,200000,300000,400000,500000,600000,700000,800000,900000], "domainColor": "#b02020", "domainWidth": 1.5, "tickColor": "#b02020", "tickSize": 5, "grid": true, "gridColor": "#8c1c1c", "gridDash": [1,3], "gridOpacity": {"condition": {"test": "datum.value > 0 && datum.value % 200000 === 0", "value": 1}, "value": 0}}},
  "y2": {"datum": 0},
  "fill": {"condition": {"test": "datum.c >= datum.o", "value": "#000000"}, "value": "#54fcfc"},
  "stroke": {"condition": {"test": "datum.c >= datum.o", "value": "#f04848"}, "value": "#54fcfc"}
 }},
{"data": {"name": "boxes"}, "mark": {"type": "rect", "filled": false, "color": "#f0f0a0", "strokeWidth": 1.2, "xOffset": -2, "x2Offset": 2, "y2Offset": 2},
 "encoding": {"x": {"field": "d1", "type": "quantitative", "axis": null}, "x2": {"field": "d2"}, "y": {"field": "top", "type": "quantitative", "axis": null}, "y2": {"datum": 0}}},
{"data": {"name": "k"},
 "transform": [{"window": [{"op": "mean", "field": "v", "as": "ma10"}], "frame": [-9, 0], "sort": [{"field": "d"}]}],
 "mark": {"type": "line", "color": "#d040d0", "strokeWidth": 1},
 "encoding": {"x": {"field": "d", "type": "quantitative", "axis": null}, "y": {"field": "ma10", "type": "quantitative", "axis": null}}},
{"data": {"name": "k"},
 "transform": [{"window": [{"op": "mean", "field": "v", "as": "ma5"}], "frame": [-4, 0], "sort": [{"field": "d"}]}],
 "mark": {"type": "line", "color": "#f4f4dc", "strokeWidth": 1},
 "encoding": {"x": {"field": "d", "type": "quantitative", "axis": null}, "y": {"field": "ma5", "type": "quantitative", "axis": null}}},
{"data": {"values": [{}]}, "mark": {"type": "rule", "color": "#b02020", "strokeWidth": 1.5},
 "encoding": {"y": {"datum": -15000, "type": "quantitative", "axis": null}}},
{"data": {"values": [{}]}, "mark": {"type": "text", "text": "VOL-TDX(5,10)", "fontSize": 11, "align": "left", "baseline": "middle", "color": "#e8e8e8", "clip": true},
 "encoding": {"x": {"datum": -1, "type": "quantitative", "axis": null}, "y": {"datum": 917000, "type": "quantitative", "axis": null}}},
{"data": {"values": [{}]}, "mark": {"type": "text", "text": "VVOL: 199062.84", "fontSize": 11, "align": "left", "baseline": "middle", "color": "#e8e8e8"},
 "encoding": {"x": {"datum": 18.5, "type": "quantitative", "axis": null}, "y": {"datum": 917000, "type": "quantitative", "axis": null}}},
{"data": {"values": [{}]}, "mark": {"type": "text", "text": "↑", "font": "DejaVu Sans", "fontSize": 11, "align": "left", "baseline": "middle", "color": "#f04848"},
 "encoding": {"x": {"datum": 40.2, "type": "quantitative", "axis": null}, "y": {"datum": 917000, "type": "quantitative", "axis": null}}},
{"data": {"values": [{}]}, "mark": {"type": "text", "text": "VOLUME: 199062.84", "fontSize": 11, "align": "left", "baseline": "middle", "color": "#f0f0a0"},
 "encoding": {"x": {"datum": 43.9, "type": "quantitative", "axis": null}, "y": {"datum": 917000, "type": "quantitative", "axis": null}}},
{"data": {"values": [{}]}, "mark": {"type": "text", "text": "↑", "font": "DejaVu Sans", "fontSize": 11, "align": "left", "baseline": "middle", "color": "#f04848"},
 "encoding": {"x": {"datum": 69.8, "type": "quantitative", "axis": null}, "y": {"datum": 917000, "type": "quantitative", "axis": null}}},
{"data": {"values": [{}]}, "mark": {"type": "text", "text": "MA5: 243871.20", "fontSize": 11, "align": "left", "baseline": "middle", "color": "#f0f0a0"},
 "encoding": {"x": {"datum": 72.3, "type": "quantitative", "axis": null}, "y": {"datum": 917000, "type": "quantitative", "axis": null}}},
{"data": {"values": [{}]}, "mark": {"type": "text", "text": "↓", "font": "DejaVu Sans", "fontSize": 11, "align": "left", "baseline": "middle", "color": "#54fcfc"},
 "encoding": {"x": {"datum": 92.2, "type": "quantitative", "axis": null}, "y": {"datum": 917000, "type": "quantitative", "axis": null}}},
{"data": {"values": [{}]}, "mark": {"type": "text", "text": "MA10: 286914.41", "fontSize": 11, "align": "left", "baseline": "middle", "color": "#d050d0"},
 "encoding": {"x": {"datum": 95.1, "type": "quantitative", "axis": null}, "y": {"datum": 917000, "type": "quantitative", "axis": null}}},
{"data": {"values": [{}]}, "mark": {"type": "text", "text": "↓", "font": "DejaVu Sans", "fontSize": 11, "align": "left", "baseline": "middle", "color": "#54fcfc"},
 "encoding": {"x": {"datum": 116.3, "type": "quantitative", "axis": null}, "y": {"datum": 917000, "type": "quantitative", "axis": null}}}
]
},
{
"width": 978, "height": 143,
"layer": [
{"data": {"name": "k"}, "mark": {"type": "rule", "strokeWidth": 1, "clip": true},
 "encoding": {
  "x": {"field": "d", "type": "quantitative", "scale": {"domain": [-0.5, 231.5], "nice": false, "zero": false}, "axis": null},
  "y": {"field": "macd", "type": "quantitative", "scale": {"domain": [-0.797, 1.4375], "nice": false, "zero": false},
        "axis": {"orient": "right", "title": null, "labels": false, "values": [-0.75,-0.5,-0.25,0,0.25,0.5,0.75,1,1.25], "domainColor": "#b02020", "domainWidth": 1.5, "tickColor": "#b02020", "tickSize": 5, "grid": true, "gridColor": "#8c1c1c", "gridDash": [1,3], "gridOpacity": {"condition": {"test": "datum.value === 0.5 || datum.value === 1", "value": 1}, "value": 0}}},
  "y2": {"datum": 0},
  "color": {"condition": {"test": "datum.macd >= 0", "value": "#f04848"}, "value": "#7ff0f0"}
 }},
{"data": {"values": [{}]}, "mark": {"type": "text", "text": "178448.COM", "fontSize": 15.5, "fontWeight": "bold", "align": "center", "baseline": "middle", "color": "#b4b4b4", "opacity": 0.85},
 "encoding": {"x": {"datum": 218.2, "type": "quantitative", "axis": null}, "y": {"datum": -0.45, "type": "quantitative", "axis": null}}},
{"data": {"values": [{}]}, "mark": {"type": "rule", "color": "#d0d0d0", "strokeWidth": 1, "strokeDash": [1, 2]},
 "encoding": {"y": {"datum": 0, "type": "quantitative", "axis": null}}},
{"data": {"name": "k"}, "mark": {"type": "line", "color": "#e8e890", "strokeWidth": 1},
 "encoding": {"x": {"field": "d", "type": "quantitative", "axis": null}, "y": {"field": "dea", "type": "quantitative", "axis": null}}},
{"data": {"name": "k"}, "mark": {"type": "line", "color": "#ffffff", "strokeWidth": 1},
 "encoding": {"x": {"field": "d", "type": "quantitative", "axis": null}, "y": {"field": "dif", "type": "quantitative", "axis": null}}},
{"data": {"values": [{}]}, "mark": {"type": "text", "text": "MACD(12,26,9)", "fontSize": 11, "align": "left", "baseline": "middle", "color": "#e8e8e8", "clip": true},
 "encoding": {"x": {"datum": -1, "type": "quantitative", "axis": null}, "y": {"datum": 1.31, "type": "quantitative", "axis": null}}},
{"data": {"values": [{}]}, "mark": {"type": "text", "text": "DIF: -0.11", "fontSize": 11, "align": "left", "baseline": "middle", "color": "#e8e8e8"},
 "encoding": {"x": {"datum": 20.1, "type": "quantitative", "axis": null}, "y": {"datum": 1.31, "type": "quantitative", "axis": null}}},
{"data": {"values": [{}]}, "mark": {"type": "text", "text": "↓", "font": "DejaVu Sans", "fontSize": 11, "align": "left", "baseline": "middle", "color": "#54fcfc"},
 "encoding": {"x": {"datum": 33.4, "type": "quantitative", "axis": null}, "y": {"datum": 1.31, "type": "quantitative", "axis": null}}},
{"data": {"values": [{}]}, "mark": {"type": "text", "text": "DEA: -0.05", "fontSize": 11, "align": "left", "baseline": "middle", "color": "#f0f0a0"},
 "encoding": {"x": {"datum": 36.3, "type": "quantitative", "axis": null}, "y": {"datum": 1.31, "type": "quantitative", "axis": null}}},
{"data": {"values": [{}]}, "mark": {"type": "text", "text": "↓", "font": "DejaVu Sans", "fontSize": 11, "align": "left", "baseline": "middle", "color": "#54fcfc"},
 "encoding": {"x": {"datum": 50.5, "type": "quantitative", "axis": null}, "y": {"datum": 1.31, "type": "quantitative", "axis": null}}},
{"data": {"values": [{}]}, "mark": {"type": "text", "text": "MACD: -0.12", "fontSize": 11, "align": "left", "baseline": "middle", "color": "#d050d0"},
 "encoding": {"x": {"datum": 53.6, "type": "quantitative", "axis": null}, "y": {"datum": 1.31, "type": "quantitative", "axis": null}}},
{"data": {"values": [{}]}, "mark": {"type": "text", "text": "↓", "font": "DejaVu Sans", "fontSize": 11, "align": "left", "baseline": "middle", "color": "#54fcfc"},
 "encoding": {"x": {"datum": 70.0, "type": "quantitative", "axis": null}, "y": {"datum": 1.31, "type": "quantitative", "axis": null}}}
]
}
]
}
